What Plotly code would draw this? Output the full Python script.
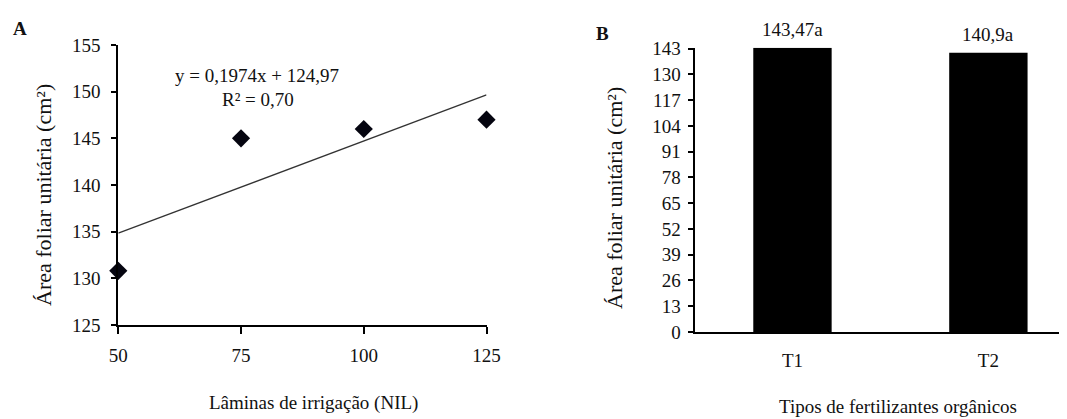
import plotly.graph_objects as go

# ---- Panel A data ----
irrigation = [50, 75, 100, 125]
leaf_area_a = [130.8, 145.0, 146.0, 147.0]
slope = 0.1974
intercept = 124.97
eq_text = "y = 0,1974x + 124,97"
r2_text = "R² = 0,70"

# ---- Panel B data ----
fertilizers = ["T1", "T2"]
leaf_area_b = [143.47, 140.9]
bar_labels = ["143,47a", "140,9a"]
b_ticks = [0, 13, 26, 39, 52, 65, 78, 91, 104, 117, 130, 143]

# page body has an 8px default margin: lay out in window pixels, shifted
OFF = 8
W, H = 1067 - OFF, 419 - OFF
FONT = "Liberation Serif, Times New Roman, serif"
FS = 19

def px(x):
    return (x - OFF) / W

def py(y):
    return (H - (y - OFF)) / H

fig = go.Figure()

fit_x = [irrigation[0], irrigation[-1]]
fit_y = [slope * v + intercept for v in fit_x]
fig.add_trace(go.Scatter(x=fit_x, y=fit_y, mode="lines",
                         line=dict(color="#333333", width=1.3),
                         xaxis="x", yaxis="y", showlegend=False, hoverinfo="skip"))
fig.add_trace(go.Scatter(x=irrigation, y=leaf_area_a, mode="markers",
                         marker=dict(symbol="diamond", size=14, color="#050510"),
                         xaxis="x", yaxis="y", showlegend=False, cliponaxis=False))

fig.add_trace(go.Bar(x=[0, 1], y=leaf_area_b, width=0.40,
                     marker=dict(color="black", line=dict(width=0)),
                     xaxis="x2", yaxis="y2", showlegend=False))

axis_common = dict(showline=True, linecolor="black", linewidth=2, showgrid=False,
                   zeroline=False, ticks="outside", tickcolor="black", tickwidth=2,
                   automargin=False,
                   tickfont=dict(family=FONT, size=FS, color="#111111"))

fig.update_layout(
    width=W, height=H,
    margin=dict(l=0, r=0, t=0, b=0, pad=0, autoexpand=False),
    paper_bgcolor="white", plot_bgcolor="white",
    xaxis=dict(domain=[px(118.3), px(486.5)], range=[50, 125],
               tickvals=irrigation, ticklen=7, ticklabelstandoff=5,
               anchor="y", **axis_common),
    yaxis=dict(domain=[py(325), py(45)], range=[125, 155], dtick=5,
               ticklen=5, ticklabelstandoff=7, anchor="x", **axis_common),
    xaxis2=dict(domain=[px(694.5), 1.0], range=[-0.5, 1.443 - OFF / 191.7],
                tickvals=[0, 1], ticktext=fertilizers, anchor="y2",
                showline=True, linecolor="black", linewidth=2, showgrid=False,
                zeroline=False, ticks="", ticklen=0, ticklabelstandoff=10,
                automargin=False,
                tickfont=dict(family=FONT, size=FS, color="#111111")),
    yaxis2=dict(domain=[py(332), py(47.7)], range=[0, 143.5],
                tickvals=b_ticks, ticklen=5, ticklabelstandoff=3,
                anchor="x2", **axis_common),
)

annotations = [
    dict(text="<b>A</b>", x=px(20), y=py(28), font=dict(size=19)),
    dict(text="<b>B</b>", x=px(602), y=py(33), font=dict(size=19)),
    dict(text=eq_text, x=px(257), y=py(75)),
    dict(text=r2_text, x=px(258), y=py(100)),
    dict(text="Lâminas de irrigação (NIL)", x=px(313), y=py(403)),
    dict(text="Tipos de fertilizantes orgânicos", x=px(898), y=py(406)),
    dict(text="Área foliar unitária (cm²)", x=px(43), y=py(195), textangle=-90,
         font=dict(size=22)),
    dict(text="Área foliar unitária (cm²)", x=px(614), y=py(198), textangle=-90,
         font=dict(size=22)),
]
for a in annotations:
    f = dict(family=FONT, size=FS, color="#111111")
    f.update(a.pop("font", {}))
    fig.add_annotation(xref="paper", yref="paper", showarrow=False,
                       xanchor="center", yanchor="middle", font=f, **a)

for i, (v, lab) in enumerate(zip(leaf_area_b, bar_labels)):
    fig.add_annotation(xref="x2", yref="y2", x=i, y=v, text=lab, showarrow=False,
                       xanchor="center", yanchor="bottom", yshift=6,
                       font=dict(family=FONT, size=FS, color="#111111"))

fig.write_html("out.html")
